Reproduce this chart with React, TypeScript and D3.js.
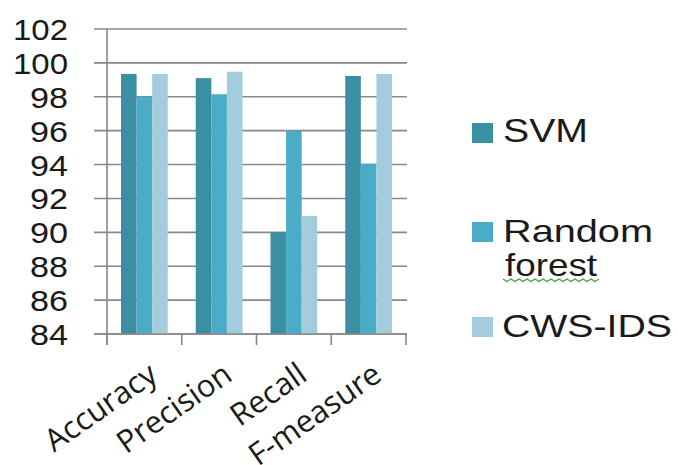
import React from "react";
import * as d3 from "d3";

const categories = ["Accuracy", "Precision", "Recall", "F-measure"];
const seriesNames = ["SVM", "Random forest", "CWS-IDS"];
const svmValues = [99.35, 99.1, 90.0, 99.23];
const rfValues = [98.0, 98.15, 96.0, 94.05];
const cwsValues = [99.35, 99.48, 90.97, 99.35];
const yTicks = [84, 86, 88, 90, 92, 94, 96, 98, 100, 102];
const colors = ["#3A8FA5", "#4AACC6", "#A3CDDC"];

const W = 678;
const H = 465;

export default function App() {
  const x = d3.scaleBand<string>().domain(categories).range([107, 406]).paddingInner(0).paddingOuter(0);
  const inner = d3.scaleBand<number>().domain([0, 1, 2]).range([14, x.bandwidth() - 14]);
  const y = d3.scaleLinear().domain([84, 102]).range([334, 29]);
  const series = [svmValues, rfValues, cwsValues];
  const gridColor = "#888888";

  // spell-check squiggle under "forest"
  const sq: [number, number][] = d3.range(0, 25).map((i) => [503 + i * 4, 279 + (i % 2 === 0 ? 0 : 2.5)]);
  const sqPath = d3.line()(sq) || "";

  const legendY = [133, 232, 327];

  return (
    <svg width={W} height={H} style={{ position: "absolute", left: 0, top: 0, background: "#fff" }}>
      {/* grid lines */}
      {yTicks.map((t) => (
        <line key={t} x1={94} x2={407} y1={y(t)} y2={y(t)} stroke={gridColor} strokeWidth={1.6} />
      ))}
      {/* bars */}
      {categories.map((c, ci) =>
        series.map((s, si) => (
          <rect
            key={c + si}
            x={(x(c) as number) + (inner(si) as number)}
            y={y(s[ci])}
            width={inner.bandwidth()}
            height={y(84) - y(s[ci])}
            fill={colors[si]}
          />
        ))
      )}
      {/* axes */}
      <line x1={107} x2={107} y1={y(102)} y2={345} stroke={gridColor} strokeWidth={1.6} />
      <line x1={94} x2={407} y1={y(84)} y2={y(84)} stroke={gridColor} strokeWidth={1.6} />
      {[...categories.map((c) => x(c) as number), 406].map((tx, i) => (
        <line key={i} x1={tx} x2={tx} y1={y(84)} y2={345} stroke={gridColor} strokeWidth={1.6} />
      ))}
      {/* y tick labels */}
      {yTicks.map((t) => (
        <text
          key={t}
          x={68}
          y={y(t) + 11}
          textAnchor="end"
          fontFamily="Liberation Sans, Arial, sans-serif"
          fontSize={30}
          fill="#1a1a1a"
          textLength={String(t).length === 3 ? 55 : 38}
          lengthAdjust="spacingAndGlyphs"
        >
          {t}
        </text>
      ))}
      {/* x labels */}
      {categories.map((c) => {
        const cx = (x(c) as number) + x.bandwidth() / 2;
        return (
          <text
            key={c}
            transform={`translate(${cx + 15},${379}) rotate(-35)`}
            textAnchor="end"
            fontFamily="Open Sans, sans-serif"
            fontSize={31}
            fill="#1a1a1a"
          >
            {c}
          </text>
        );
      })}
      {/* legend */}
      {seriesNames.map((n, i) => (
        <rect key={n} x={472} y={legendY[i] - 10} width={21} height={20} fill={colors[i]} />
      ))}
      <text x={503} y={142} fontFamily="Liberation Sans, Arial, sans-serif" fontSize={34} fill="#1a1a1a" textLength={85} lengthAdjust="spacingAndGlyphs">
        SVM
      </text>
      <text x={503} y={242} fontFamily="Liberation Sans, Arial, sans-serif" fontSize={32} fill="#1a1a1a" textLength={150} lengthAdjust="spacingAndGlyphs">
        Random
      </text>
      <text x={505} y={276} fontFamily="Liberation Sans, Arial, sans-serif" fontSize={32} fill="#1a1a1a" textLength={92} lengthAdjust="spacingAndGlyphs">
        forest
      </text>
      <path d={sqPath} fill="none" stroke="#3aa040" strokeWidth={1.2} />
      <text x={502} y={337} fontFamily="Liberation Sans, Arial, sans-serif" fontSize={32} fill="#1a1a1a" textLength={170} lengthAdjust="spacingAndGlyphs">
        CWS-IDS
      </text>
    </svg>
  );
}
